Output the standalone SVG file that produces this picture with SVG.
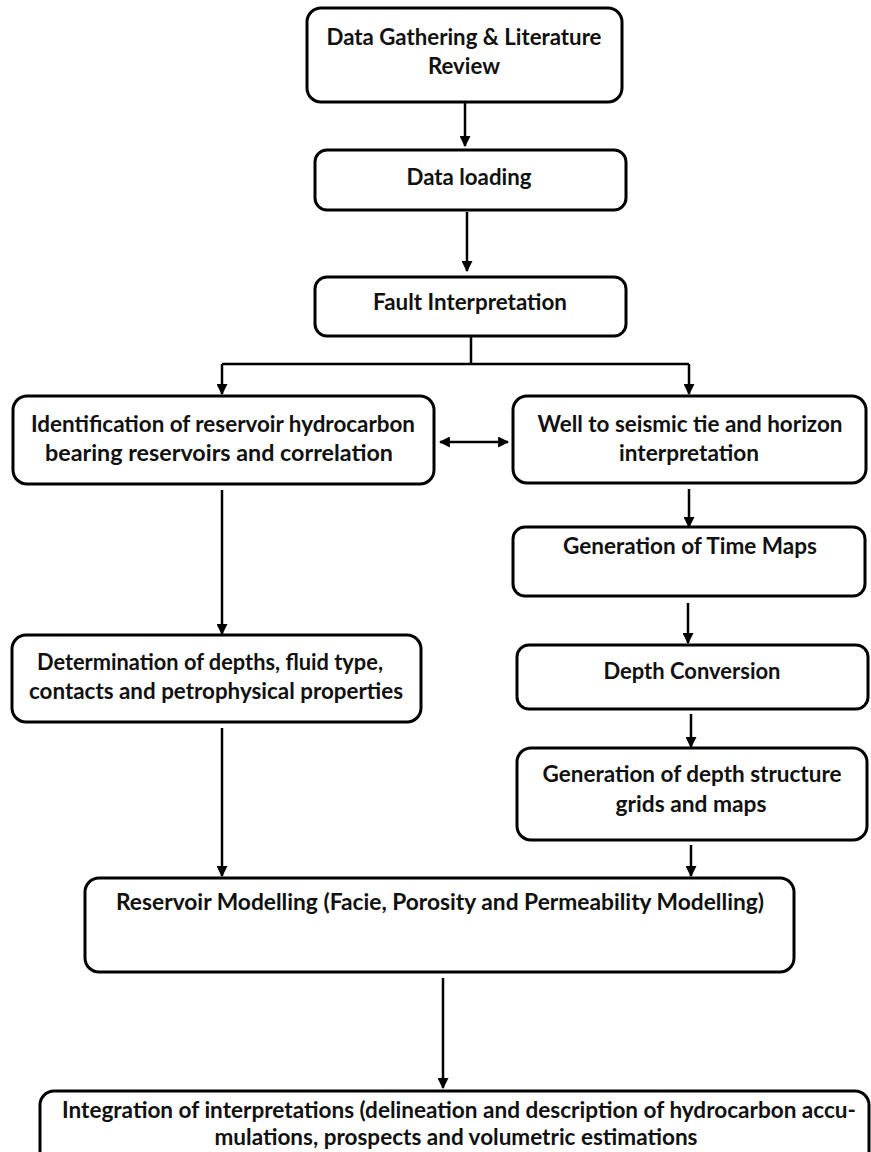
<svg xmlns="http://www.w3.org/2000/svg" width="871" height="1152" viewBox="0 0 871 1152">
<style>
.box{fill:#fff;stroke:#000;stroke-width:3}
.t{font-family:Lato,"Open Sans","Liberation Sans",sans-serif;font-weight:700;font-size:22px;fill:#111;text-anchor:middle}
.c{fill:none;stroke:#000;stroke-width:2.5}
</style>
<defs>
<marker id="ah" viewBox="0 0 10 10" refX="9" refY="5" markerWidth="4.4" markerHeight="4.4" orient="auto-start-reverse" markerUnits="strokeWidth">
<path d="M0,0 L10,5 L0,10 z" fill="#000"/>
</marker>
</defs>
<rect width="871" height="1152" fill="#fff"/>
<g id="connectors">
<line class="c" x1="465" y1="103" x2="465" y2="146" marker-end="url(#ah)"/>
<line class="c" x1="467" y1="212" x2="467" y2="271" marker-end="url(#ah)"/>
<path class="c" d="M471,337 V364 M222,364 H689"/>
<line class="c" x1="222" y1="364" x2="222" y2="394" marker-end="url(#ah)"/>
<line class="c" x1="689" y1="364" x2="689" y2="394" marker-end="url(#ah)"/>
<line class="c" x1="440" y1="442" x2="508" y2="442" marker-start="url(#ah)" marker-end="url(#ah)"/>
<line class="c" x1="222" y1="490" x2="222" y2="634" marker-end="url(#ah)"/>
<line class="c" x1="689" y1="489" x2="689" y2="527" marker-end="url(#ah)"/>
<line class="c" x1="688" y1="603" x2="688" y2="643" marker-end="url(#ah)"/>
<line class="c" x1="691" y1="714" x2="691" y2="747" marker-end="url(#ah)"/>
<line class="c" x1="222" y1="728" x2="222" y2="876" marker-end="url(#ah)"/>
<line class="c" x1="691" y1="845" x2="691" y2="876" marker-end="url(#ah)"/>
<line class="c" x1="443" y1="978" x2="443" y2="1088" marker-end="url(#ah)"/>
</g>
<g id="n1">
<rect class="box" x="307" y="8" width="315" height="94" rx="14"/>
<text class="t" x="464" y="45" textLength="275" lengthAdjust="spacingAndGlyphs">Data Gathering &amp; Literature</text>
<text class="t" x="464" y="74" textLength="72" lengthAdjust="spacingAndGlyphs">Review</text>
</g>
<g id="n2">
<rect class="box" x="315" y="150" width="311" height="60" rx="12"/>
<text class="t" x="469" y="185" textLength="125" lengthAdjust="spacingAndGlyphs">Data loading</text>
</g>
<g id="n3">
<rect class="box" x="315" y="277" width="311" height="59" rx="12"/>
<text class="t" x="470" y="310" textLength="194" lengthAdjust="spacingAndGlyphs">Fault Interpretation</text>
</g>
<g id="n4">
<rect class="box" x="13" y="396" width="421" height="88" rx="14"/>
<text class="t" x="223" y="432" textLength="384" lengthAdjust="spacingAndGlyphs">Identification of reservoir hydrocarbon</text>
<text class="t" x="219" y="461" textLength="348" lengthAdjust="spacingAndGlyphs">bearing reservoirs and correlation</text>
</g>
<g id="n5">
<rect class="box" x="513" y="396" width="353" height="87" rx="14"/>
<text class="t" x="690" y="432" textLength="305" lengthAdjust="spacingAndGlyphs">Well to seismic tie and horizon</text>
<text class="t" x="689" y="461" textLength="140" lengthAdjust="spacingAndGlyphs">interpretation</text>
</g>
<g id="n6">
<rect class="box" x="513" y="527" width="352" height="69" rx="12"/>
<text class="t" x="690" y="554" textLength="254" lengthAdjust="spacingAndGlyphs">Generation of Time Maps</text>
</g>
<g id="n7">
<rect class="box" x="517" y="645" width="351" height="64" rx="12"/>
<text class="t" x="692" y="679" textLength="177" lengthAdjust="spacingAndGlyphs">Depth Conversion</text>
</g>
<g id="n8">
<rect class="box" x="517" y="748" width="350" height="92" rx="14"/>
<text class="t" x="692" y="782" textLength="299" lengthAdjust="spacingAndGlyphs">Generation of depth structure</text>
<text class="t" x="691" y="812" textLength="151" lengthAdjust="spacingAndGlyphs">grids and maps</text>
</g>
<g id="n9">
<rect class="box" x="12" y="635" width="409" height="87" rx="14"/>
<text class="t" x="210" y="670" textLength="346" lengthAdjust="spacingAndGlyphs">Determination of depths, fluid type,</text>
<text class="t" x="216" y="699" textLength="374" lengthAdjust="spacingAndGlyphs">contacts and petrophysical properties</text>
</g>
<g id="n10">
<rect class="box" x="85" y="878" width="709" height="94" rx="14"/>
<text class="t" x="440" y="910" textLength="648" lengthAdjust="spacingAndGlyphs">Reservoir Modelling (Facie, Porosity and Permeability Modelling)</text>
</g>
<g id="n11">
<rect class="box" x="40" y="1091" width="829" height="76" rx="14"/>
<text class="t" x="459" y="1118" textLength="794" lengthAdjust="spacingAndGlyphs">Integration of interpretations (delineation and description of hydrocarbon accu-</text>
<text class="t" x="456" y="1145" textLength="483" lengthAdjust="spacingAndGlyphs">mulations, prospects and volumetric estimations</text>
</g>
</svg>
